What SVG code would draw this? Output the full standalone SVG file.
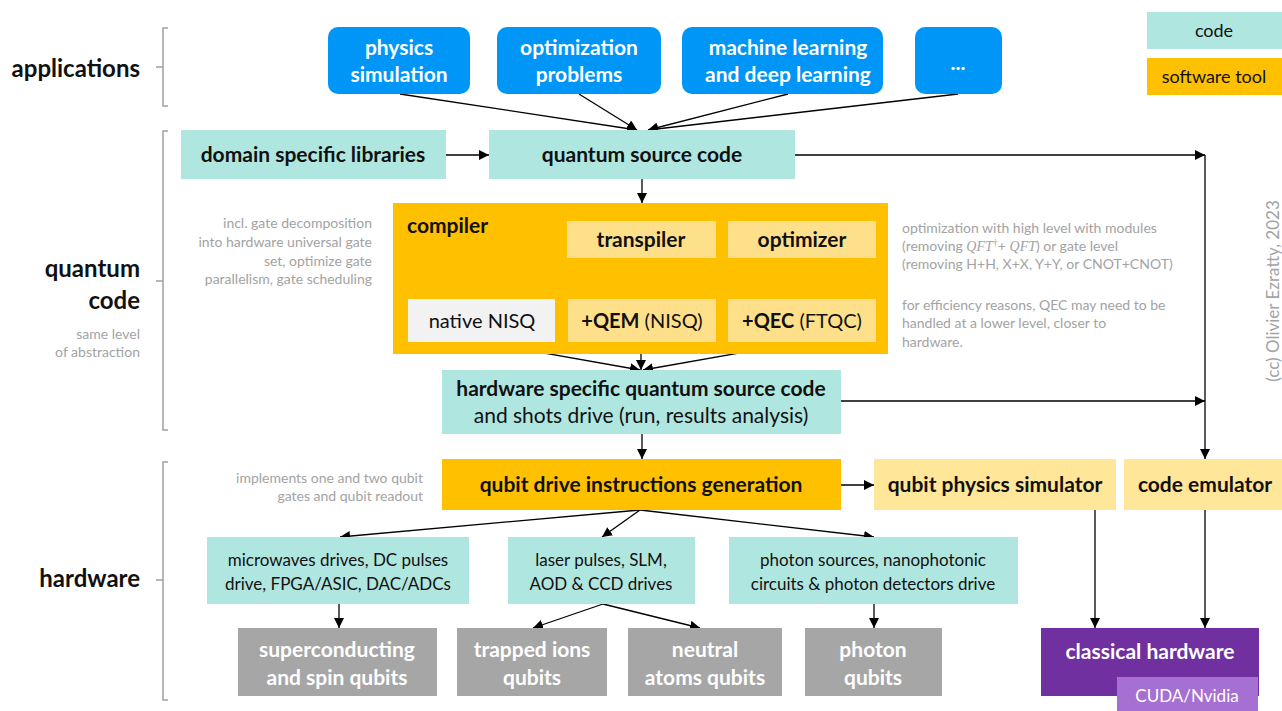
<svg xmlns="http://www.w3.org/2000/svg" width="1282" height="711" viewBox="0 0 1282 711">
<defs>
<marker id="ah" viewBox="0 0 10 10" refX="10" refY="5" markerWidth="10" markerHeight="10" markerUnits="userSpaceOnUse" orient="auto"><path d="M0,0 L10,5 L0,10 z" fill="#000"/></marker>
<style>
text{font-family:Lato,"Open Sans",sans-serif;}
.b{font-weight:bold;}
.lbl{font-size:24px;font-weight:bold;fill:#111;}
.app{fill:#0096F8;}
.code{fill:#B0E6E0;}
.tool{fill:#FFC000;}
.lt{fill:#FFE08A;}
.gray{fill:#A6A6A6;}
.t{font-size:21px;fill:#111;text-anchor:middle;}
.tw{font-size:21px;fill:#fff;text-anchor:middle;font-weight:bold;}
.s{font-size:17px;fill:#111;text-anchor:middle;}
.note{font-size:14px;fill:#A3A3A3;}
.br{fill:none;stroke:#A0A0A0;stroke-width:1.5;}
.c{fill:none;stroke:#000;stroke-width:1.3;}
.ca{fill:none;stroke:#000;stroke-width:1.3;marker-end:url(#ah);}
</style>
</defs>
<rect width="1282" height="711" fill="#fff"/>

<g id="layers">
<path class="br" d="M168,28 H163 V106 H168 M163,67 H156"/>
<path class="br" d="M168,131 H163 V430 H168 M163,281 H156"/>
<path class="br" d="M168,462 H163 V700 H168 M163,580 H156"/>
<text class="lbl" x="140" y="77" text-anchor="end">applications</text>
<text class="lbl" x="140" y="277" text-anchor="end">quantum</text>
<text class="lbl" x="140" y="309" text-anchor="end">code</text>
<text class="note" x="140" y="339" text-anchor="end">same level</text>
<text class="note" x="140" y="357" text-anchor="end">of abstraction</text>
<text class="lbl" x="140" y="587" text-anchor="end">hardware</text>
</g>

<g id="legend">
<rect class="code" x="1147" y="12" width="135" height="37"/>
<text x="1214" y="37" class="t" style="font-size:18px">code</text>
<rect class="tool" x="1147" y="58" width="135" height="37"/>
<text x="1214" y="83" class="t" style="font-size:18px">software tool</text>
</g>

<g id="credit"><text class="note" transform="translate(1279,291) rotate(-90)" text-anchor="middle" style="font-size:17px">(cc) Olivier Ezratty, 2023</text></g>

<g id="connectors">
<path class="ca" d="M400,94 L637,130"/>
<path class="ca" d="M579,94 L637,130"/>
<path class="ca" d="M788,94 L648,130"/>
<path class="ca" d="M958,94 L648,130"/>
<path class="ca" d="M446,155 H489"/>
<path class="ca" d="M795,155 H1205"/>
<path class="c" d="M1205,155 V401"/>
<path class="ca" d="M1205,401 V459"/>
<path class="ca" d="M642,179 V203"/>
<path class="ca" d="M641,268 L487,298"/>
<path class="ca" d="M641,268 V298"/>
<path class="ca" d="M641,268 L800,298"/>
<path class="ca" d="M482,342 L640,370"/>
<path class="ca" d="M641,342 V370"/>
<path class="ca" d="M802,342 L643,370"/>
<path class="ca" d="M841,401 H1205"/>
<path class="ca" d="M642,434 V459"/>
<path class="ca" d="M841,485 H874"/>
<path class="ca" d="M1095,510 V628"/>
<path class="ca" d="M1205,510 V628"/>
<path class="ca" d="M640,510 L340,537"/>
<path class="ca" d="M640,510 L602,537"/>
<path class="ca" d="M640,510 L874,537"/>
<path class="ca" d="M339,604 V628"/>
<path class="ca" d="M603,604 L533,628"/>
<path class="ca" d="M603,604 L700,628"/>
<path class="ca" d="M874,604 V628"/>
</g>

<g id="app-physics"><rect class="app" x="328" y="27" width="142" height="67" rx="10"/>
<text class="tw" x="399" y="55">physics</text><text class="tw" x="399" y="82">simulation</text></g>
<g id="app-optim"><rect class="app" x="497" y="27" width="164" height="67" rx="10"/>
<text class="tw" x="579" y="55">optimization</text><text class="tw" x="579" y="82">problems</text></g>
<g id="app-ml"><rect class="app" x="682" y="27" width="201" height="67" rx="10"/>
<text class="tw" x="788" y="55">machine learning</text><text class="tw" x="788" y="82">and deep learning</text></g>
<g id="app-more"><rect class="app" x="915" y="27" width="87" height="67" rx="10"/>
<text class="tw" x="958" y="70">...</text></g>

<g id="dsl"><rect class="code" x="181" y="130" width="265" height="49"/>
<text class="t b" x="313" y="162">domain specific libraries</text></g>
<g id="qsc"><rect class="code" x="489" y="130" width="306" height="49"/>
<text class="t b" x="642" y="162">quantum source code</text></g>

<g id="compiler"><rect class="tool" x="393" y="203" width="495" height="151"/>
<text class="b" x="407" y="233" style="font-size:21px;fill:#111">compiler</text></g>
<g id="transpiler"><rect class="lt" x="567" y="221" width="149" height="37"/>
<text class="t b" x="641" y="247">transpiler</text></g>
<g id="optimizer"><rect class="lt" x="728" y="221" width="148" height="37"/>
<text class="t b" x="802" y="247">optimizer</text></g>
<g id="native"><rect fill="#F2F2F2" x="408" y="299" width="147" height="43"/>
<text class="t" x="482" y="328" style="font-size:20px">native NISQ</text></g>
<g id="qem"><rect class="lt" x="568" y="299" width="148" height="43"/>
<text class="t" x="642" y="328" style="font-size:20px"><tspan class="b">+QEM</tspan> (NISQ)</text></g>
<g id="qec"><rect class="lt" x="728" y="299" width="148" height="43"/>
<text class="t" x="802" y="328" style="font-size:20px"><tspan class="b">+QEC</tspan> (FTQC)</text></g>

<g id="notes">
<text class="note" text-anchor="end" x="372" y="228">incl. gate decomposition</text>
<text class="note" text-anchor="end" x="372" y="247">into hardware universal gate</text>
<text class="note" text-anchor="end" x="372" y="266">set, optimize gate</text>
<text class="note" text-anchor="end" x="372" y="284">parallelism, gate scheduling</text>
<text class="note" x="902" y="233">optimization with high level with modules</text>
<text class="note" x="902" y="251">(removing <tspan style="font-family:'Liberation Serif',serif;font-style:italic">QFT</tspan><tspan style="font-family:'Liberation Serif',serif" dy="-5" font-size="10">†</tspan><tspan dy="5">+ </tspan><tspan style="font-family:'Liberation Serif',serif;font-style:italic">QFT</tspan>) or gate level</text>
<text class="note" x="902" y="269">(removing H+H, X+X, Y+Y, or CNOT+CNOT)</text>
<text class="note" x="902" y="310">for efficiency reasons, QEC may need to be</text>
<text class="note" x="902" y="328">handled at a lower level, closer to</text>
<text class="note" x="902" y="347">hardware.</text>
<text class="note" text-anchor="end" x="423" y="483">implements one and two qubit</text>
<text class="note" text-anchor="end" x="423" y="501">gates and qubit readout</text>
</g>

<g id="hwsrc"><rect class="code" x="442" y="370" width="399" height="64"/>
<text class="t b" x="641" y="396">hardware specific quantum source code</text>
<text class="t" x="641" y="423">and shots drive (run, results analysis)</text></g>
<g id="qdig"><rect class="tool" x="442" y="459" width="399" height="51"/>
<text class="t b" x="641" y="492">qubit drive instructions generation</text></g>
<g id="qps"><rect fill="#FFE699" x="874" y="459" width="242" height="51"/>
<text class="t b" x="995" y="492">qubit physics simulator</text></g>
<g id="emu"><rect fill="#FFE699" x="1124" y="459" width="158" height="51"/>
<text class="t b" x="1205" y="492">code emulator</text></g>

<g id="classical"><rect fill="#7030A0" x="1041" y="628" width="218" height="68"/>
<text class="tw" x="1150" y="659">classical hardware</text>
<rect fill="#A66FD2" x="1117" y="677" width="141" height="34"/>
<text x="1187" y="702" style="font-size:17px;fill:#fff;text-anchor:middle">CUDA/Nvidia</text></g>

<g id="mw"><rect class="code" x="207" y="537" width="262" height="67"/>
<text class="s" x="338" y="566">microwaves drives, DC pulses</text>
<text class="s" x="338" y="590">drive, FPGA/ASIC, DAC/ADCs</text></g>
<g id="laser"><rect class="code" x="508" y="537" width="187" height="67"/>
<text class="s" x="601" y="566">laser pulses, SLM,</text>
<text class="s" x="601" y="590">AOD &amp; CCD drives</text></g>
<g id="photonic"><rect class="code" x="729" y="537" width="289" height="67"/>
<text class="s" x="873" y="566">photon sources, nanophotonic</text>
<text class="s" x="873" y="590">circuits &amp; photon detectors drive</text></g>

<g id="sc"><rect class="gray" x="238" y="628" width="199" height="68"/>
<text class="tw" x="337" y="657">superconducting</text><text class="tw" x="337" y="685">and spin qubits</text></g>
<g id="ions"><rect class="gray" x="457" y="628" width="150" height="68"/>
<text class="tw" x="532" y="657">trapped ions</text><text class="tw" x="532" y="685">qubits</text></g>
<g id="atoms"><rect class="gray" x="628" y="628" width="154" height="68"/>
<text class="tw" x="705" y="657">neutral</text><text class="tw" x="705" y="685">atoms qubits</text></g>
<g id="photons"><rect class="gray" x="805" y="628" width="137" height="68"/>
<text class="tw" x="873" y="657">photon</text><text class="tw" x="873" y="685">qubits</text></g>
</svg>
